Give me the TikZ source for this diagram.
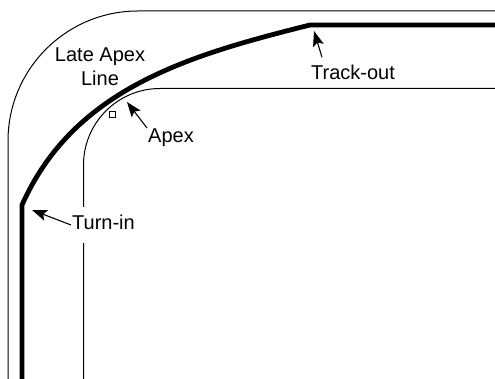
\documentclass[tikz,border=0pt]{standalone}
\usepackage{fontspec}
\setmainfont{Liberation Sans}
\usetikzlibrary{arrows.meta}
\begin{document}
\begin{tikzpicture}[x=1pt,y=-1pt,
  edge/.style={line width=1pt},
  raceline/.style={line width=4.8pt},
  pointer/.style={line width=1.1pt,-{Stealth[length=15pt,width=11pt,inset=3pt]}},
  lbl/.style={font=\fontsize{20}{24}\selectfont, inner sep=1pt},
]
\useasboundingbox (0,0) rectangle (495,379);

% outer edge of the track
\draw[edge] (8,379) -- (8,141) arc[start angle=180,end angle=270,radius=130] -- (495,11);
% inner edge of the track
\draw[edge] (83.5,379) -- (83.5,165) arc[start angle=180,end angle=270,radius=76.5] -- (495,88.5);

% late apex driving line
\draw[raceline] (22,379) -- (22,205) .. controls (74,88) and (190,55) .. (310,25) -- (495,25);

% apex marker
\node[draw, line width=0.8pt, minimum size=6pt, inner sep=0pt] (apexmark) at (112,114) {};

% labels
\node[lbl, anchor=north, align=center] (late) at (100,46.7) {Late Apex\\Line};
\node[lbl, anchor=base west] (apex) at (147,143) {Apex};
\node[lbl, anchor=base west, fill=white, text height=15pt, text depth=5pt, inner ysep=8pt] (turnin) at (71,230) {Turn-in};
\node[lbl, anchor=base west] (trackout) at (310,80) {Track-out};

% pointers
\coordinate (inTip) at (32,210);
\coordinate (apexTip) at (127,102);
\coordinate (outTip) at (314,31);
\draw[pointer] (turnin.west) -- (inTip);
\draw[pointer] (apex.north west) -- (apexTip);
\draw[pointer] ([shift={(12pt,7pt)}]trackout.north west) -- (outTip);
\end{tikzpicture}
\end{document}
